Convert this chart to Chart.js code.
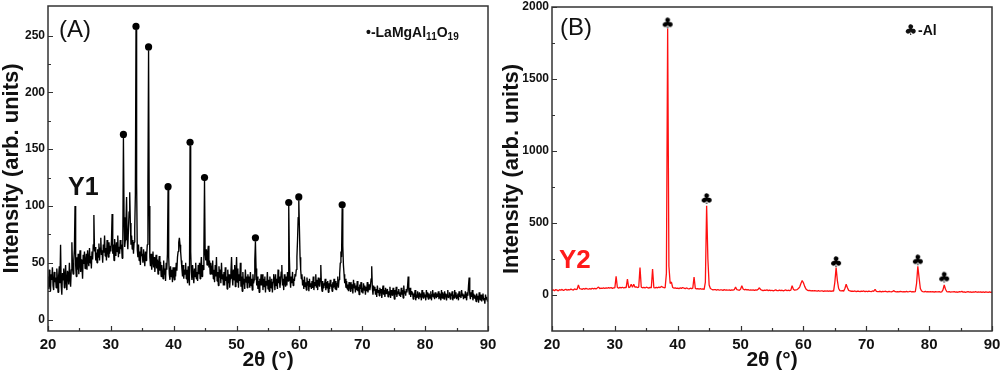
<!DOCTYPE html>
<html><head><meta charset="utf-8">
<script src="https://cdn.jsdelivr.net/npm/chart.js@4.4.1/dist/chart.umd.min.js"></script>
<style>
html,body{margin:0;padding:0;background:#fff;}
#wrap{position:relative;width:1003px;height:380px;overflow:hidden;background:#fff;}
#pa{position:absolute;left:0;top:0;width:500px;height:380px;}
#pb{position:absolute;left:500px;top:0;width:503px;height:380px;}
</style></head><body>
<div id="wrap"><div id="pa"><canvas id="ca" width="500" height="380"></canvas></div><div id="pb"><canvas id="cb" width="503" height="380"></canvas></div></div>
<script>
const thetaStart = 20;
const thetaStepA = 0.1;   // panel A sampled every 0.1° (rows of 2°)
const thetaStepB = 0.2;   // panel B sampled every 0.2° (rows of 2°)

// Panel (A) – Y1 intensities, 20.0° … 90.0°
const intensityA = [
 38,27,44,31,25,40,35,46,30,26,42,33,37,28,45,36,24,39,47,32,
 66,30,22,41,35,45,28,38,48,33,26,43,39,31,50,36,29,44,68,45,
 40,52,62,100,48,38,55,44,58,40,50,61,42,53,47,36,57,49,60,45,
 50,58,44,61,52,47,63,50,56,45,60,53,66,92,60,64,52,59,50,62,
 55,67,52,63,72,57,61,50,66,59,74,56,63,52,70,61,55,68,58,65,
 60,70,93,58,66,52,71,62,56,68,60,74,55,64,58,70,62,66,54,68,
 160,90,64,70,85,108,72,62,80,95,112,85,66,74,62,70,58,68,80,110,
 255,120,62,55,66,52,60,48,64,56,58,50,62,54,47,60,52,57,66,120,
 237,100,55,47,58,44,52,60,46,55,42,50,57,45,53,40,49,56,43,51,
 38,48,42,36,52,40,45,34,50,44,58,114,55,40,35,47,38,44,33,46,
 40,35,46,38,50,43,55,60,68,72,66,60,52,45,38,48,36,44,40,50,
 36,44,32,47,38,30,153,60,42,35,48,40,32,45,38,50,36,42,34,48,
 40,50,36,46,55,38,48,44,60,122,58,52,62,48,58,65,46,52,40,50,
 46,40,52,36,44,33,48,38,55,34,42,30,47,37,44,32,50,36,40,30,
 42,30,46,34,38,27,44,32,40,28,36,42,55,38,30,44,35,48,29,40,
 55,33,45,28,40,34,50,29,38,25,42,31,36,27,44,33,38,28,40,32,
 38,28,42,30,36,26,40,32,35,52,69,45,30,38,27,34,24,36,30,40,
 30,40,26,36,29,38,24,34,30,42,27,35,25,38,32,28,36,24,33,40,
 35,26,40,30,36,27,44,32,38,28,34,42,48,30,36,26,40,33,29,38,
 30,42,34,100,55,36,28,38,32,42,30,36,34,40,38,44,55,70,90,105,
 80,55,44,36,40,30,35,27,38,29,33,26,37,30,34,25,36,29,32,27,
 34,28,38,26,33,30,40,28,35,26,37,32,29,36,48,30,25,34,28,32,
 30,36,26,33,28,34,24,32,27,35,29,31,25,33,28,36,30,27,34,26,
 32,38,28,35,40,50,60,55,98,65,48,40,32,36,28,34,27,31,25,33,
 30,25,33,27,31,23,35,28,32,24,30,26,34,25,29,22,31,27,33,24,
 28,23,32,26,30,22,29,25,33,24,28,31,26,30,36,47,28,22,30,26,
 29,22,27,20,30,24,26,21,28,23,27,19,25,30,22,26,20,28,23,25,
 27,20,25,22,29,19,26,23,21,28,24,18,26,22,29,20,25,23,27,21,
 24,20,28,22,26,19,30,23,25,21,27,24,29,38,26,22,28,20,25,22,
 24,18,23,20,26,17,22,19,25,21,18,24,20,23,17,26,21,19,24,20,
 22,17,26,20,24,18,23,21,19,25,17,22,26,20,23,18,24,21,19,23,
 20,25,18,23,21,17,26,19,24,22,18,25,20,23,17,22,26,19,21,24,
 18,23,21,25,17,22,19,26,20,24,18,21,23,17,25,20,22,19,26,21,
 23,18,22,19,25,20,17,24,21,30,37,22,18,24,20,26,17,23,19,22,
 20,16,23,18,21,15,24,19,17,22,16,20,23,17,19,14,22,18,20,16,
 17
];
const markThetaA = [32.0, 34.0, 36.0, 39.1, 42.6, 44.9, 53.0, 58.3, 59.9, 66.8];
const markValueA = [163, 258, 240, 117, 156, 125, 72, 103, 108, 101];

// Panel (B) – Y2 intensities, 20.0° … 90.0°
const intensityB = [
 32,36,30,38,34,29,37,33,39,31,
 36,40,33,38,35,41,37,34,42,38,
 40,70,44,42,39,45,41,46,43,40,
 44,41,47,43,46,42,48,55,45,47,
 46,49,45,50,47,51,48,52,46,50,
 49,130,52,48,53,50,54,49,52,51,
 110,52,55,75,53,75,54,56,52,55,
 190,55,50,53,49,54,51,48,53,50,
 180,52,49,53,50,55,51,60,54,52,
 50,150,1850,200,80,90,52,48,50,46,
 48,44,50,46,52,47,44,49,45,43,
 47,44,48,125,46,42,45,41,44,40,
 42,38,90,620,250,70,45,40,36,38,
 37,34,38,33,36,35,32,37,34,36,
 33,36,32,35,34,37,55,38,35,33,
 40,65,42,36,39,35,37,33,36,34,
 35,32,36,34,40,50,37,33,31,34,
 32,35,31,34,30,33,29,32,35,31,
 30,34,31,33,29,32,35,30,33,31,
 34,65,40,33,36,38,45,55,80,100,
 85,60,42,34,30,32,29,31,28,30,
 29,27,30,26,29,28,25,29,27,28,
 26,29,25,28,27,90,190,100,45,30,
 28,30,27,45,75,50,32,28,26,27,
 25,28,24,27,26,23,27,25,28,24,
 26,23,27,25,24,28,26,40,25,23,
 24,26,22,25,23,26,24,22,25,23,
 22,25,30,23,21,24,22,25,23,21,
 24,22,25,21,23,26,22,24,21,23,
 80,200,120,45,28,24,22,25,21,23,
 22,24,21,23,20,24,22,21,23,20,
 22,35,70,40,24,21,23,20,22,21,
 23,20,22,19,24,21,25,20,22,19,
 21,23,20,22,19,21,20,23,19,21,
 20,22,18,21,19,22,20,18,21,19,
 19
];
const markThetaB = [38.4, 44.6, 65.2, 78.2, 82.4];
const markValueB = [1880, 660, 222, 234, 114];

// Axis ticks
const xTicks = [20, 30, 40, 50, 60, 70, 80, 90];
const xMinorTicks = [25, 35, 45, 55, 65, 75, 85];
const yTicksA = [0, 50, 100, 150, 200, 250];
const yMinorA = [25, 75, 125, 175, 225];
const yTicksB = [0, 500, 1000, 1500, 2000];
const yMinorB = [250, 750, 1250, 1750];

const FONT = "'Liberation Sans', Arial, Helvetica, sans-serif";
const TXT = '#111';

function toPoints(vals, step){ return vals.map((v,i)=>({x: +(thetaStart + i*step).toFixed(2), y: v})); }
function zipPts(xs, ys){ return xs.map((x,i)=>({x, y: ys[i]})); }

function clubImage(){
  const c=document.createElement('canvas'); c.width=16; c.height=16;
  const g=c.getContext('2d'); g.fillStyle='#000';
  g.font="bold 15px 'DejaVu Sans', sans-serif"; g.textAlign='center'; g.textBaseline='middle';
  g.fillText('\u2663',8,8.5); return c;
}

function drawRich(ctx, parts, x, y){
  let cx=x;
  parts.forEach(p=>{ ctx.font=p.f; ctx.fillText(p.t, cx, y+(p.dy||0)); cx+=ctx.measureText(p.t).width; });
}

function frame(id, yMajor, yMinor, extra){
  return { id, afterDraw(chart){
    const {ctx, chartArea:a, scales:{x,y}} = chart;
    ctx.save();
    ctx.strokeStyle='#333'; ctx.lineWidth=1.2;
    ctx.beginPath();
    xTicks.forEach(v=>{const p=Math.round(x.getPixelForValue(v))+0.5; ctx.moveTo(p,a.bottom); ctx.lineTo(p,a.bottom-5);});
    xMinorTicks.forEach(v=>{const p=Math.round(x.getPixelForValue(v))+0.5; ctx.moveTo(p,a.bottom); ctx.lineTo(p,a.bottom-3);});
    yMajor.forEach(v=>{const p=Math.round(y.getPixelForValue(v))+0.5; ctx.moveTo(a.left,p); ctx.lineTo(a.left+5,p);});
    yMinor.forEach(v=>{const p=Math.round(y.getPixelForValue(v))+0.5; ctx.moveTo(a.left,p); ctx.lineTo(a.left+3,p);});
    ctx.stroke();
    ctx.lineWidth=1.5;
    ctx.strokeRect(a.left, a.top, a.right-a.left, a.bottom-a.top);
    ctx.textAlign='left'; ctx.textBaseline='alphabetic';
    extra(ctx);
    ctx.restore();
  }};
}

function makeChart(canvas, lineData, lineColor, lineWidth, marks, markStyle, yMin, yMax, yMajor, yMinor, pad, yWidth, plugin){
  return new Chart(canvas, {
    type:'scatter',
    data:{datasets:[
      {data: lineData, showLine:true, borderColor: lineColor, borderWidth:lineWidth, pointRadius:0, borderJoinStyle:'bevel', tension:0, order:2},
      Object.assign({data: marks, showLine:false, order:1}, markStyle)
    ]},
    options:{
      responsive:false, animation:false, events:[],
      layout:{padding:pad},
      plugins:{legend:{display:false}, tooltip:{enabled:false}},
      scales:{
        x:{type:'linear', min:20, max:90,
           afterBuildTicks(s){ s.ticks = xTicks.map(v=>({value:v})); },
           afterFit(s){ s.height=49; s.paddingLeft=0; s.paddingRight=0; },
           grid:{display:false, drawTicks:false}, border:{display:false},
           ticks:{color:TXT, padding:5, font:{family:FONT, size:15, weight:'bold'}, maxRotation:0, autoSkip:false, callback:v=>String(v)},
           title:{display:true, text:'2θ (°)', color:TXT, font:{family:FONT, size:21, weight:'bold', lineHeight:1.2}, padding:{top:0,bottom:7}}
        },
        y:{type:'linear', min:yMin, max:yMax,
           afterBuildTicks(s){ s.ticks = yMajor.map(v=>({value:v})); },
           afterFit(s){ s.width=yWidth; s.paddingTop=0; s.paddingBottom=0; },
           grid:{display:false, drawTicks:false}, border:{display:false},
           ticks:{color:TXT, padding:3, font:{family:FONT, size:12, weight:'bold'}, autoSkip:false, callback:v=>String(v)},
           title:{display:true, text:'Intensity (arb. units)', color:TXT, font:{family:FONT, size:22, weight:'bold', lineHeight:1}, padding:{top:1,bottom:0}}
        }
      }
    },
    plugins:[plugin]
  });
}

const club = clubImage();

makeChart(document.getElementById('ca'), toPoints(intensityA, thetaStepA), '#000', 1.35,
  zipPts(markThetaA, markValueA), {pointRadius:3.6, pointBackgroundColor:'#000', pointBorderWidth:0},
  -10, 276, yTicksA, yMinorA, {left:0, right:12, top:6, bottom:0}, 48,
  frame('fa', yTicksA, yMinorA, ctx=>{
    ctx.fillStyle=TXT;
    ctx.font='24px '+FONT; ctx.fillText('(A)', 59, 37);
    ctx.font='bold 25px '+FONT; ctx.fillText('Y1', 68, 195);
    drawRich(ctx, [
      {t:'\u2022-LaMgAl', f:'bold 14px '+FONT},
      {t:'11', f:'bold 10px '+FONT, dy:3},
      {t:'O', f:'bold 14px '+FONT},
      {t:'19', f:'bold 10px '+FONT, dy:3}
    ], 366, 37);
  }));

makeChart(document.getElementById('cb'), toPoints(intensityB, thetaStepB), '#ff1010', 1.3,
  zipPts(markThetaB, markValueB), {pointStyle: club, pointRadius:6},
  -250, 2000, yTicksB, yMinorB, {left:0, right:11, top:7, bottom:0}, 52,
  frame('fb', yTicksB, yMinorB, ctx=>{
    ctx.fillStyle=TXT;
    ctx.font='24px '+FONT; ctx.fillText('(B)', 60, 35);
    ctx.fillStyle='#ff1a1a';
    ctx.font='bold 26px '+FONT; ctx.fillText('Y2', 59, 268);
    ctx.fillStyle=TXT;
    ctx.font="bold 15px 'DejaVu Sans', sans-serif"; ctx.fillText('\u2663', 404, 35);
    ctx.font='bold 14px '+FONT; ctx.fillText('-Al', 418, 35);
  }));
</script>
</body></html>
